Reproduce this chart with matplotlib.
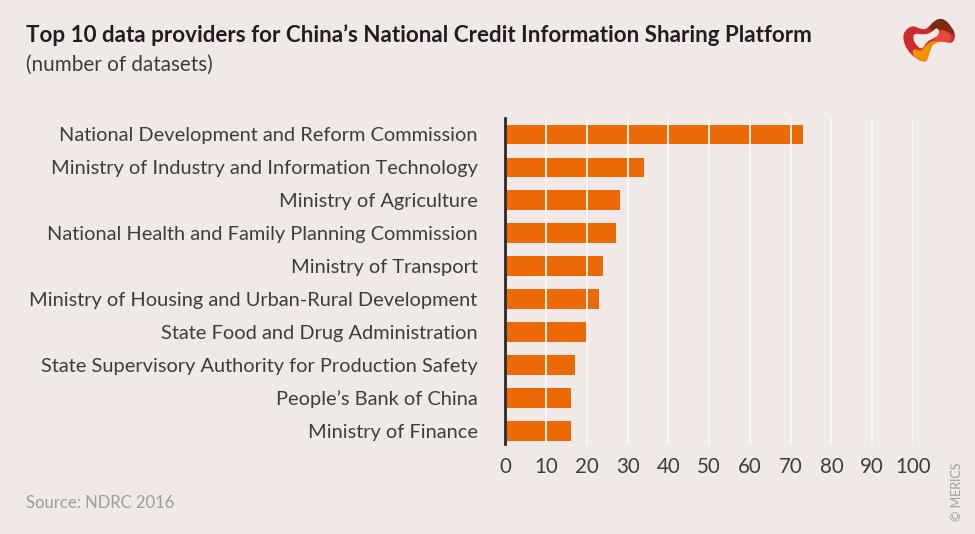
import matplotlib
matplotlib.use('Agg')
import matplotlib.pyplot as plt
from matplotlib.patches import PathPatch
from matplotlib.path import Path

plt.rcParams['font.family'] = ['Lato', 'DejaVu Sans']

# Chart data
providers = [
    "National Development and Reform Commission",
    "Ministry of Industry and Information Technology",
    "Ministry of Agriculture",
    "National Health and Family Planning Commission",
    "Ministry of Transport",
    "Ministry of Housing and Urban-Rural Development",
    "State Food and Drug Administration",
    "State Supervisory Authority for Production Safety",
    "People\u2019s Bank of China",
    "Ministry of Finance",
]
datasets = [73, 34, 28, 27, 24, 23, 20, 17, 16, 16]
x_ticks = [0, 10, 20, 30, 40, 50, 60, 70, 80, 90, 100]

BG = '#f1e9e7'
ORANGE = '#ec6a05'
TEXT = '#3f3d3b'
GREY = '#a09c99'
W, H = 975, 534

fig = plt.figure(figsize=(W / 100, H / 100), dpi=100, facecolor=BG)
ax = fig.add_axes([505.5 / W, 1 - 444 / H, (913 - 505.5) / W, (444 - 118) / H])
ax.set_facecolor('none')

# Bars sit under the white gridlines
y_pos = list(range(len(providers)))
ax.barh(y_pos, datasets, height=0.6, color=ORANGE, zorder=2)
for t in x_ticks[1:]:
    ax.axvline(t, color='#fbf8f6', lw=1.3, zorder=3)

ax.set_xlim(0, 100)
ax.set_ylim(9.4, -0.5)
ax.set_xticks(x_ticks)
ax.set_yticks(y_pos)
ax.set_yticklabels(providers)
ax.tick_params(axis='y', length=0, labelcolor=TEXT, labelsize=14.4, pad=20)
ax.tick_params(axis='x', length=0, labelcolor=TEXT, labelsize=14.8, pad=9.5)

for side in ['top', 'right', 'bottom']:
    ax.spines[side].set_visible(False)
ax.spines['left'].set_color('#2b2a29')
ax.spines['left'].set_linewidth(2)
ax.spines['left'].set_zorder(4)

# Titles and notes
fig.text(26 / W, 1 - 35 / H, "Top 10 data providers for China\u2019s National Credit Information Sharing Platform",
         fontsize=16.1, fontweight='bold', color='#1f1e1d', va='center')
fig.text(26 / W, 1 - 65 / H, "(number of datasets)", fontsize=14.9, color=TEXT, va='center')
fig.text(26 / W, 1 - 503 / H, "Source: NDRC 2016", fontsize=12, color=GREY, va='center')
fig.text(957 / W, 1 - 492 / H, "\u00a9 MERICS", fontsize=9, color=GREY,
         rotation=90, ha='center', va='center')


# Logo, smooth closed blob through midpoints of the given pixel points
def logo(points, color):
    pts = [(x / W, 1 - y / H) for x, y in points]
    mids = [((a[0] + b[0]) / 2, (a[1] + b[1]) / 2) for a, b in zip(pts, pts[1:] + pts[:1])]
    verts = [mids[-1]]
    codes = [Path.MOVETO]
    for p, m in zip(pts, mids):
        verts += [p, m]
        codes += [Path.CURVE3, Path.CURVE3]
    fig.add_artist(PathPatch(Path(verts, codes), transform=fig.transFigure,
                             facecolor=color, edgecolor='none'))


logo([(904, 31), (913, 25), (922, 30), (928, 28), (935, 20), (943, 18), (952, 27), (956, 36),
      (952, 44), (943, 41), (934, 42), (929, 50), (927, 63), (916, 59), (907, 50), (903, 40)], '#cf2a2c')
logo([(914, 48), (921, 52), (926, 44), (935, 40), (945, 41), (934, 43), (930, 50), (927, 63), (916, 59), (912, 53)], '#f39200')
logo([(936, 31), (945, 29), (952, 36), (950, 43), (940, 41), (933, 42), (937, 37)], '#e8483a')
logo([(928, 28), (935, 20), (943, 18), (952, 27), (955, 36), (947, 31), (938, 29), (932, 31)], '#7d2a12')
logo([(914, 33), (925, 35), (932, 32), (937, 27), (940, 33), (935, 38), (927, 41), (922, 50), (916, 45), (913, 39)], BG)

fig.savefig('out.png', dpi=100, facecolor=BG)
